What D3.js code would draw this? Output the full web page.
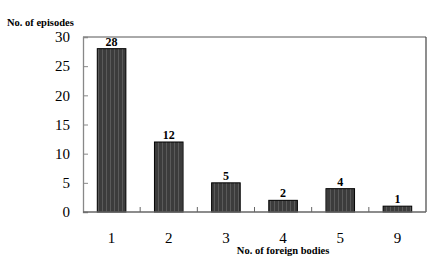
<!DOCTYPE html>
<html>
<head>
<meta charset="utf-8">
<script src="https://cdn.jsdelivr.net/npm/d3@7"></script>
<style>
  body { margin: 0; background: #fff; }
  svg { display: block; }
</style>
</head>
<body>
<div id="chart"></div>
<script>
"use strict";

var categories = ["1", "2", "3", "4", "5", "9"];
var episodes = [28, 12, 5, 2, 4, 1];
var yTicks = [0, 5, 10, 15, 20, 25, 30];

const width = 435, height = 264;
const margin = {left: 83, right: 9, top: 37, bottom: 52};
const font = "'Liberation Serif', 'Times New Roman', serif";

let svg = d3.select("#chart").append("svg")
	.attr("width", width)
	.attr("height", height);

// striped fill like the original bars
let defs = svg.append("defs");
let pat = defs.append("pattern")
	.attr("id", "stripes")
	.attr("patternUnits", "userSpaceOnUse")
	.attr("width", 4)
	.attr("height", 4);
pat.append("rect").attr("width", 4).attr("height", 4).attr("fill", "#3c3c3c");
pat.append("rect").attr("x", 2).attr("width", 1).attr("height", 4).attr("fill", "#5a5a5a");

let x = d3.scaleBand()
	.domain(categories)
	.range([margin.left, width - margin.right])
	.paddingInner(0.5)
	.paddingOuter(0.25);

let y = d3.scaleLinear()
	.domain([0, 30])
	.range([height - margin.bottom, margin.top]);

let data = categories.map((c, i) => ({cat: c, val: episodes[i]}));

// frame: top and right darker
svg.append("line")
	.attr("x1", margin.left).attr("x2", width - margin.right)
	.attr("y1", y(30)).attr("y2", y(30))
	.attr("stroke", "#555").attr("stroke-width", 1);
svg.append("line")
	.attr("x1", width - margin.right).attr("x2", width - margin.right)
	.attr("y1", y(30)).attr("y2", y(0))
	.attr("stroke", "#444").attr("stroke-width", 1.2);

// bars
svg.selectAll("rect.bar")
	.data(data)
	.enter()
	.append("rect")
		.attr("class", "bar")
		.attr("x", d => x(d.cat))
		.attr("y", d => y(d.val))
		.attr("width", x.bandwidth())
		.attr("height", d => y(0) - y(d.val))
		.attr("fill", "url(#stripes)")
		.attr("stroke", "#000")
		.attr("stroke-width", 1);

// value labels
svg.selectAll("text.val")
	.data(data)
	.enter()
	.append("text")
		.attr("class", "val")
		.attr("x", d => x(d.cat) + x.bandwidth() / 2)
		.attr("y", d => y(d.val) - 3)
		.attr("text-anchor", "middle")
		.style("font-family", font)
		.style("font-weight", "bold")
		.style("font-size", "12px")
		.text(d => d.val);

// y axis
let yAxis = d3.axisLeft(y).tickValues(yTicks).tickSize(-5).tickPadding(13);
let gy = svg.append("g")
	.attr("transform", `translate(${margin.left},0)`)
	.call(yAxis);
gy.select(".domain").attr("stroke", "#888").attr("stroke-width", 1.3);
gy.selectAll(".tick line").attr("stroke", "#888");
gy.selectAll(".tick text")
	.style("font-family", font)
	.style("font-size", "15px")
	.attr("fill", "#000");

// x axis, ticks sit between categories
let gx = svg.append("g").attr("transform", `translate(0,${y(0)})`);
gx.append("line")
	.attr("x1", margin.left).attr("x2", width - margin.right)
	.attr("stroke", "#666").attr("stroke-width", 1.3);
let step = x.step();
gx.selectAll("line.tk")
	.data(categories.slice(1))
	.enter()
	.append("line")
		.attr("class", "tk")
		.attr("x1", d => x(d) - (step - x.bandwidth()) / 2)
		.attr("x2", d => x(d) - (step - x.bandwidth()) / 2)
		.attr("y1", 0).attr("y2", -5)
		.attr("stroke", "#666");
gx.selectAll("text.cat")
	.data(categories)
	.enter()
	.append("text")
		.attr("class", "cat")
		.attr("x", d => x(d) + x.bandwidth() / 2)
		.attr("y", 31)
		.attr("text-anchor", "middle")
		.style("font-family", font)
		.style("font-size", "15px")
		.text(d => d);

// axis titles
svg.append("text")
	.attr("x", 7)
	.attr("y", 26)
	.style("font-family", font)
	.style("font-weight", "bold")
	.style("font-size", "10.5px")
	.text("No. of episodes");

svg.append("text")
	.attr("x", x("4") + x.bandwidth() / 2)
	.attr("y", 254)
	.attr("text-anchor", "middle")
	.style("font-family", font)
	.style("font-weight", "bold")
	.style("font-size", "10.5px")
	.text("No. of foreign bodies");
</script>
</body>
</html>
